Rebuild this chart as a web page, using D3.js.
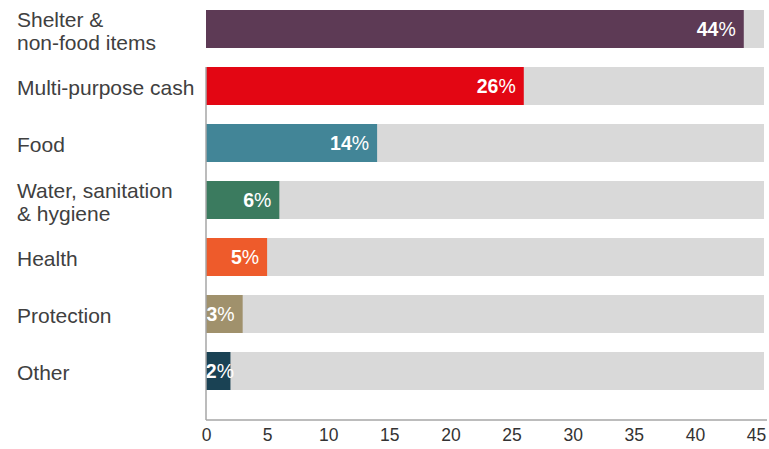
<!DOCTYPE html>
<html>
<head>
<meta charset="utf-8">
<script src="https://cdn.jsdelivr.net/npm/d3@7"></script>
<style>
  html, body { margin: 0; padding: 0; background: #ffffff; }
  svg { display: block; }
</style>
</head>
<body>
<svg id="chart" width="769" height="449"></svg>
<script>
// Share of funding by sector (%)
const categories = [
  ["Shelter &", "non-food items"],
  ["Multi-purpose cash"],
  ["Food"],
  ["Water, sanitation", "& hygiene"],
  ["Health"],
  ["Protection"],
  ["Other"]
];
const values = [44, 26, 14, 6, 5, 3, 2];
const colors = ["#5d3a55", "#e30613", "#428597", "#3b7b5f", "#ee5b2b", "#a0916c", "#1a4254"];
const tickValues = [0, 5, 10, 15, 20, 25, 30, 35, 40, 45];

const width = 769, height = 449;
const left = 206, trackEnd = 764, axisY = 420;
const labelFont = "'Liberation Sans', Arial, sans-serif";

const svg = d3.select("#chart");

const x = d3.scaleLinear().domain([0, 45]).range([left, 756]);
const y = d3.scaleBand()
  .domain(d3.range(values.length))
  .range([0.5, 399.5])
  .paddingInner(1 / 3)
  .paddingOuter(1 / 6);

const rows = svg.append("g").selectAll("g")
  .data(values.map((v, i) => ({ v, i, label: categories[i], color: colors[i] })))
  .join("g");

// grey track behind each bar
rows.append("rect")
  .attr("x", x(0))
  .attr("y", d => y(d.i))
  .attr("width", trackEnd - x(0))
  .attr("height", y.bandwidth())
  .attr("fill", "#d9d9d9");

// value bar
rows.append("rect")
  .attr("x", x(0))
  .attr("y", d => y(d.i))
  .attr("width", d => x(d.v) - x(0))
  .attr("height", y.bandwidth())
  .attr("fill", d => d.color);

// value label inside the bar end
const valText = rows.append("text")
  .attr("x", d => Math.max(x(d.v) - 8, x(0) + 28))
  .attr("y", d => y(d.i) + y.bandwidth() / 2 + 7)
  .attr("text-anchor", "end")
  .attr("fill", "#ffffff")
  .style("font-family", labelFont)
  .style("font-size", "19.5px");
valText.append("tspan").attr("font-weight", "bold").text(d => d.v);
valText.append("tspan").text("%");

// category labels, left aligned
rows.append("text")
  .attr("x", 17)
  .attr("y", d => y(d.i) + y.bandwidth() / 2 + 9 - (d.label.length - 1) * 11.5)
  .attr("fill", "#404040")
  .style("font-family", labelFont)
  .style("font-size", "21px")
  .selectAll("tspan")
  .data(d => d.label)
  .join("tspan")
  .attr("x", 17)
  .attr("dy", (d, k) => k === 0 ? 0 : 23)
  .text(d => d);

// axes lines
svg.append("line")
  .attr("x1", x(0)).attr("x2", x(0))
  .attr("y1", y(1)).attr("y2", axisY)
  .attr("stroke", "#a6a6a6").attr("stroke-width", 1.5);
svg.append("line")
  .attr("x1", x(0)).attr("x2", 767)
  .attr("y1", axisY).attr("y2", axisY)
  .attr("stroke", "#a6a6a6").attr("stroke-width", 1.5);

// bottom axis tick labels
const axis = svg.append("g")
  .attr("transform", `translate(0,${axisY})`)
  .call(d3.axisBottom(x).tickValues(tickValues).tickSize(0).tickPadding(9));
axis.select(".domain").remove();
axis.selectAll("text")
  .attr("fill", "#333333")
  .style("font-family", labelFont)
  .style("font-size", "17.5px");
</script>
</body>
</html>
